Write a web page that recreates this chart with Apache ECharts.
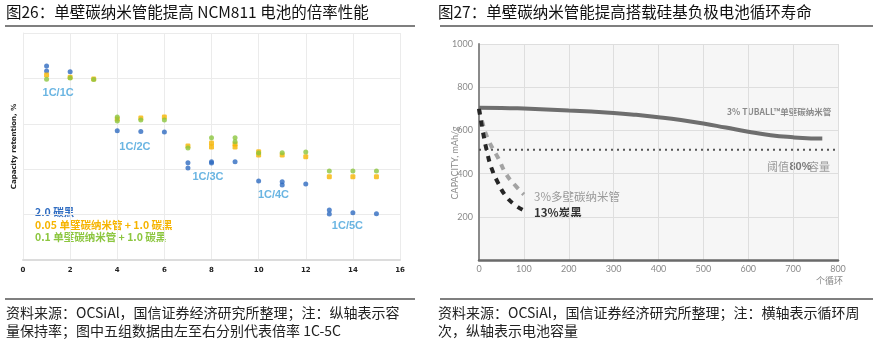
<!DOCTYPE html>
<html>
<head>
<meta charset="utf-8">
<script src="https://cdn.jsdelivr.net/npm/echarts@6/dist/echarts.min.js"></script>
<style>
html,body{margin:0;padding:0;background:#fff;}
#c{width:879px;height:346px;}
</style>
</head>
<body>
<div id="c"></div>
<script>
// ---- Left chart (Fig 26) data ----
const leftXTicks = [0, 2, 4, 6, 8, 10, 12, 14, 16];
const seriesNamesLeft = ['2.0 碳黑', '0.05 单壁碳纳米管 + 1.0 碳黑', '0.1 单壁碳纳米管 + 1.0 碳黑'];
const carbonBlack = [[1,106.8],[1,104.1],[2,103.7],[4,71.2],[5,70.7],[6,70.5],[7,53.6],[7,50.7],[8,54.1],[8,53.4],[9,54.1],[10,43.5],[11,43.1],[11,41.3],[12,41.9],[13,27.5],[13,25.3],[14,26.0],[15,25.5]];
const swcnt005 = [[1,101.9],[2,100.6],[3,99.7],[4,77.6],[5,78.2],[6,78.7],[7,62.8],[8,64.4],[8,62.2],[9,63.9],[9,62.2],[10,59.6],[10,57.8],[11,57.8],[12,56.9],[13,45.9],[14,45.9],[15,45.9]];
const swcnt01 = [[1,99.5],[2,100.2],[3,99.4],[4,78.7],[4,76.5],[5,77.1],[6,77.1],[7,61.7],[8,67.3],[9,67.3],[9,65.1],[10,58.9],[11,59.1],[12,59.5],[13,49.0],[14,49.0],[15,49.0]];
const rateLabels = [['1C/1C',1.49,92.1],['1C/2C',4.75,62.4],['1C/3C',7.85,45.7],['1C/4C',10.63,35.8],['1C/5C',13.77,18.7]];

// ---- Right chart (Fig 27) data ----
const rightXTicks = [0,100,200,300,400,500,600,700,800];
const rightYTicks = [0,200,400,600,800,1000];
const tuball = [[0,705],[50,704],[100,701],[150,697],[200,692],[250,687],[300,681],[350,672],[400,661],[450,648],[500,632],[550,613],[600,594],[650,578],[700,568],[740,563],[765,562]];
const mwcnt = [[0,700],[5,655],[20,560],[43,471],[61,396],[80,347],[100,303]];
const carbonBlack13 = [[0,700],[8,602],[17,509],[28,425],[43,355],[58,301],[80,255],[105,224]];
const threshold = [[0,510],[800,510]];

const CJK = '"Noto Sans CJK SC","Noto Sans",sans-serif';
const colors = ['#2f6cc1', '#f6b400', '#8cc63f'];

const chart = echarts.init(document.getElementById('c'), null, {renderer:'canvas'});

const option = {
  backgroundColor: '#fff',
  animation: false,
  grid: [
    {left: 23, top: 33, width: 377, height: 227, show: false},
    {left: 479, top: 44, width: 359, height: 216, show: true, backgroundColor: '#f6f6f6', borderWidth: 0}
  ],
  xAxis: [
    {gridIndex: 0, type: 'value', min: 0, max: 16, interval: 2,
     axisLine: {show: true, lineStyle: {color: '#dcdcdc', width: 2}},
     axisTick: {show: false},
     axisLabel: {fontSize: 7, fontWeight: 'bold', color: '#222', margin: 7, fontFamily: 'DejaVu Sans'},
     splitLine: {show: true, lineStyle: {color: '#ebebeb', width: 1}}},
    {gridIndex: 1, type: 'value', min: 0, max: 800, interval: 100,
     axisLine: {show: true, onZero: false, lineStyle: {color: '#6a6a6a', width: 2.5}},
     axisTick: {show: false},
     axisLabel: {fontSize: 9, color: '#8a8a8a', margin: 5, fontFamily: 'Lato'},
     splitLine: {show: true, lineStyle: {color: '#dedede', width: 1}}}
  ],
  yAxis: [
    {gridIndex: 0, type: 'value', min: 0, max: 125, interval: 25,
     name: 'Capacity retention, %', nameLocation: 'middle', nameGap: 5,
     nameTextStyle: {fontSize: 7, fontWeight: 'bold', color: '#222', fontFamily: 'DejaVu Sans'},
     axisLine: {show: true, lineStyle: {color: '#ebebeb'}},
     axisTick: {show: false}, axisLabel: {show: false},
     splitLine: {show: true, lineStyle: {color: '#ebebeb', width: 1}}},
    {gridIndex: 1, type: 'value', min: 0, max: 1000, interval: 200,
     axisLine: {show: true, lineStyle: {color: '#8a8a8a', width: 2}},
     axisTick: {show: false},
     axisLabel: {fontSize: 9, color: '#8a8a8a', margin: 6, fontFamily: 'Lato',
                 formatter: v => v === 0 ? '' : String(v)},
     splitLine: {show: true, lineStyle: {color: '#dedede', width: 1}}}
  ],
  series: [
    {name: seriesNamesLeft[0], type: 'scatter', xAxisIndex: 0, yAxisIndex: 0, data: carbonBlack,
     symbolSize: 5, itemStyle: {color: colors[0]}},
    {name: seriesNamesLeft[1], type: 'scatter', xAxisIndex: 0, yAxisIndex: 0, data: swcnt005,
     symbol: 'roundRect', symbolSize: 5, itemStyle: {color: colors[1]}},
    {name: seriesNamesLeft[2], type: 'scatter', xAxisIndex: 0, yAxisIndex: 0, data: swcnt01,
     symbolSize: 5, itemStyle: {color: colors[2]}},
    {name: 'rate', type: 'scatter', xAxisIndex: 0, yAxisIndex: 0, symbolSize: 0,
     data: rateLabels.map(r => ({value: [r[1], r[2]], name: r[0]})),
     label: {show: true, position: 'inside', formatter: p => p.name, color: '#45a3db',
             fontSize: 11, fontWeight: 'bold', fontFamily: 'Liberation Sans'},
     silent: true},
    {name: 'threshold', type: 'line', xAxisIndex: 1, yAxisIndex: 1, data: threshold, showSymbol: false,
     lineStyle: {color: '#555', width: 2, type: [2, 4]}},
    {name: '3% TUBALL', type: 'line', xAxisIndex: 1, yAxisIndex: 1, data: tuball, smooth: true, showSymbol: false,
     lineStyle: {color: '#6e6e6e', width: 4}},
    {name: '3%多壁碳纳米管', type: 'line', xAxisIndex: 1, yAxisIndex: 1, data: mwcnt, smooth: true, showSymbol: false,
     lineStyle: {color: '#a3a3a3', width: 4, type: [6, 6]}},
    {name: '13%炭黑', type: 'line', xAxisIndex: 1, yAxisIndex: 1, data: carbonBlack13, smooth: true, showSymbol: false,
     lineStyle: {color: '#262626', width: 4, type: [6, 6]}}
  ],
  graphic: [
    // titles
    {type: 'text', left: 6, top: 4, style: {text: '图26：单壁碳纳米管能提高 NCM811 电池的倍率性能', font: '15.5px ' + CJK, fill: '#111'}},
    {type: 'text', left: 438, top: 4, style: {text: '图27：单壁碳纳米管能提高搭载硅基负极电池循环寿命', font: '15.5px ' + CJK, fill: '#111'}},
    {type: 'line', shape: {x1: 5, y1: 26, x2: 415, y2: 26}, style: {stroke: '#555', lineWidth: 1.5}},
    {type: 'line', shape: {x1: 440, y1: 26, x2: 873, y2: 26}, style: {stroke: '#555', lineWidth: 1.5}},
    {type: 'line', shape: {x1: 5, y1: 299, x2: 415, y2: 299}, style: {stroke: '#555', lineWidth: 1.5}},
    {type: 'line', shape: {x1: 440, y1: 299, x2: 873, y2: 299}, style: {stroke: '#555', lineWidth: 1.5}},
    // footers
    {type: 'text', left: 6, top: 303, style: {text: '资料来源：OCSiAl，国信证券经济研究所整理；注：纵轴表示容\n量保持率；图中五组数据由左至右分别代表倍率 1C-5C', font: '14px ' + CJK, fill: '#222', lineHeight: 18.5}},
    {type: 'text', left: 438, top: 303, style: {text: '资料来源：OCSiAl，国信证券经济研究所整理；注：横轴表示循环周\n次，纵轴表示电池容量', font: '14px ' + CJK, fill: '#222', lineHeight: 18.5}},
    // left legend
    {type: 'text', left: 35, top: 207, style: {text: seriesNamesLeft[0], font: 'bold 10.5px ' + CJK, fill: colors[0]}},
    {type: 'text', left: 35, top: 219.5, style: {text: seriesNamesLeft[1], font: 'bold 10.5px ' + CJK, fill: colors[1]}},
    {type: 'text', left: 35, top: 232, style: {text: seriesNamesLeft[2], font: 'bold 10.5px ' + CJK, fill: colors[2]}},
    // right annotations
    {type: 'text', x: 727, y: 111.7, style: {text: '3% TUBALL™单壁碳纳米管', font: 'bold 8.5px ' + CJK, fill: '#8a8a8a', verticalAlign: 'middle'}},
    {type: 'text', x: 767, y: 166.7, style: {text: '阈值', font: '11px ' + CJK, fill: '#9a9a9a', verticalAlign: 'middle'}},
    {type: 'text', x: 789.5, y: 166.7, style: {text: '80%', font: 'bold 11px "Liberation Sans"', fill: '#7a7a7a', verticalAlign: 'middle'}},
    {type: 'text', x: 808, y: 166.7, style: {text: '容量', font: '11px ' + CJK, fill: '#9a9a9a', verticalAlign: 'middle'}},
    {type: 'text', x: 534, y: 196.7, style: {text: '3%多壁碳纳米管', font: '11.5px ' + CJK, fill: '#9a9a9a', verticalAlign: 'middle'}},
    {type: 'text', x: 534, y: 212.7, style: {text: '13%炭黑', font: 'bold 11.5px ' + CJK, fill: '#333', verticalAlign: 'middle'}},
    {type: 'text', x: 455, y: 163, rotation: Math.PI / 2, style: {text: 'CAPACITY, mAh/g', font: '9px Lato', fill: '#8a8a8a', align: 'center', verticalAlign: 'middle'}},
    {type: 'text', x: 843, y: 281, style: {text: '个循环', font: '9px ' + CJK, fill: '#8a8a8a', align: 'right', verticalAlign: 'middle'}}
  ]
};
chart.setOption(option);
</script>
</body>
</html>
